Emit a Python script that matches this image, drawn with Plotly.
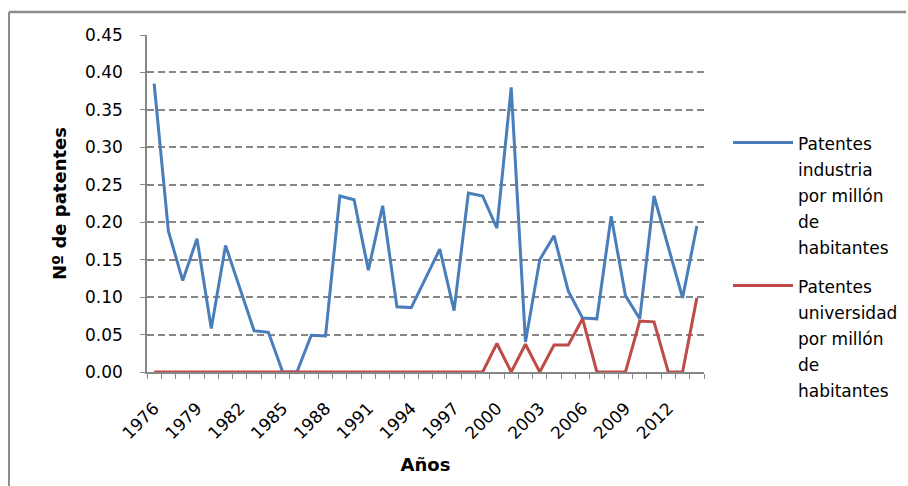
import plotly.graph_objects as go

# Patents per million inhabitants, 1976-2014
years = list(range(1976, 2015))

industria = [0.385, 0.188, 0.122, 0.178, 0.058, 0.169, 0.112, 0.055, 0.053, 0.0,
             0.0, 0.049, 0.048, 0.235, 0.230, 0.136, 0.222, 0.087, 0.086, 0.125,
             0.164, 0.082, 0.239, 0.235, 0.192, 0.380, 0.040, 0.150, 0.182, 0.108,
             0.072, 0.071, 0.208, 0.102, 0.071, 0.235, 0.167, 0.099, 0.195]

universidad = [0.0] * 24 + [0.038, 0.0, 0.037, 0.0, 0.036, 0.036, 0.071, 0.0,
                            0.0, 0.0, 0.068, 0.067, 0.0, 0.0, 0.099]

series_names = [
    ["Patentes", "industria", "por millón", "de", "habitantes"],
    ["Patentes", "universidad", "por millón", "de", "habitantes"],
]

tick_years = list(range(1976, 2013, 3))
y_ticks = [i * 0.05 for i in range(10)]

FONT = "DejaVu Sans"
GRID = "#868686"
FRAME = "#8C8C8C"

# chart-area frame, in pixel offsets from the plot-area origin (147, 372 px)
PX_W, PX_H = 557, 337
fx0, fx1 = (9 - 147) / PX_W, (906 - 147) / PX_W
fy0, fy1 = (372 - 492) / PX_H, (372 - 12) / PX_H


def legend_label(lines):
    # legend font size sets the line pitch; the span sets the glyph size
    return "<br>".join(f"<span style='font-size:17px'>{s}</span>" for s in lines)


fig = go.Figure()
fig.add_trace(go.Scatter(
    x=years, y=industria, mode="lines",
    name=legend_label(series_names[0]), legendgroup="a",
    line=dict(color="#4A7EBB", width=3),
))
fig.add_trace(go.Scatter(
    x=years, y=universidad, mode="lines",
    name=legend_label(series_names[1]), legendgroup="b",
    line=dict(color="#BE4B48", width=3),
))

fig.update_layout(
    width=908, height=486,
    margin=dict(l=147, r=204, t=35, b=114, autoexpand=False),
    paper_bgcolor="white", plot_bgcolor="white",
    font=dict(family=FONT, size=17, color="black"),
    showlegend=True,
    legend=dict(
        x=(728 - 147) / PX_W, y=(372 - 123) / PX_H, xanchor="left", yanchor="top",
        valign="top", itemwidth=60, tracegroupgap=10,
        font=dict(family=FONT, size=20, color="black"),
        bgcolor="rgba(0,0,0,0)",
    ),
    xaxis=dict(
        range=[1975.5, 2014.5],
        tickmode="array", tickvals=tick_years,
        ticktext=[str(y) for y in tick_years],
        tickangle=-45, ticks="", ticklabelstandoff=18,
        tickfont=dict(family=FONT, size=17),
        showgrid=False, zeroline=False,
        showline=True, linecolor=GRID, linewidth=1.5,
        minor=dict(tick0=1975.5, dtick=1, ticks="outside", ticklen=5,
                   tickcolor=GRID, tickwidth=1, showgrid=False),
        title=dict(text="<b>Años</b>", font=dict(family=FONT, size=18), standoff=16),
    ),
    yaxis=dict(
        range=[0, 0.45],
        tickmode="array", tickvals=y_ticks,
        ticktext=[f"{v:.2f}" for v in y_ticks],
        ticks="outside", ticklen=5, tickcolor=GRID, tickwidth=1,
        ticklabelstandoff=14,
        tickfont=dict(family=FONT, size=17),
        showgrid=True, gridcolor=GRID, gridwidth=1.5, griddash="7px,4px",
        zeroline=False,
        showline=True, linecolor=GRID, linewidth=1.5,
        title=dict(text="<b>Nº de patentes</b>", font=dict(family=FONT, size=18), standoff=14),
    ),
    shapes=[
        dict(type="line", xref="paper", yref="paper", x0=fx0, x1=fx1, y0=fy1, y1=fy1,
             line=dict(color=FRAME, width=2.5), layer="above"),
        dict(type="line", xref="paper", yref="paper", x0=fx0, x1=fx0, y0=fy0, y1=fy1,
             line=dict(color=FRAME, width=2), layer="above"),
    ],
)

fig.write_html("out.html")
